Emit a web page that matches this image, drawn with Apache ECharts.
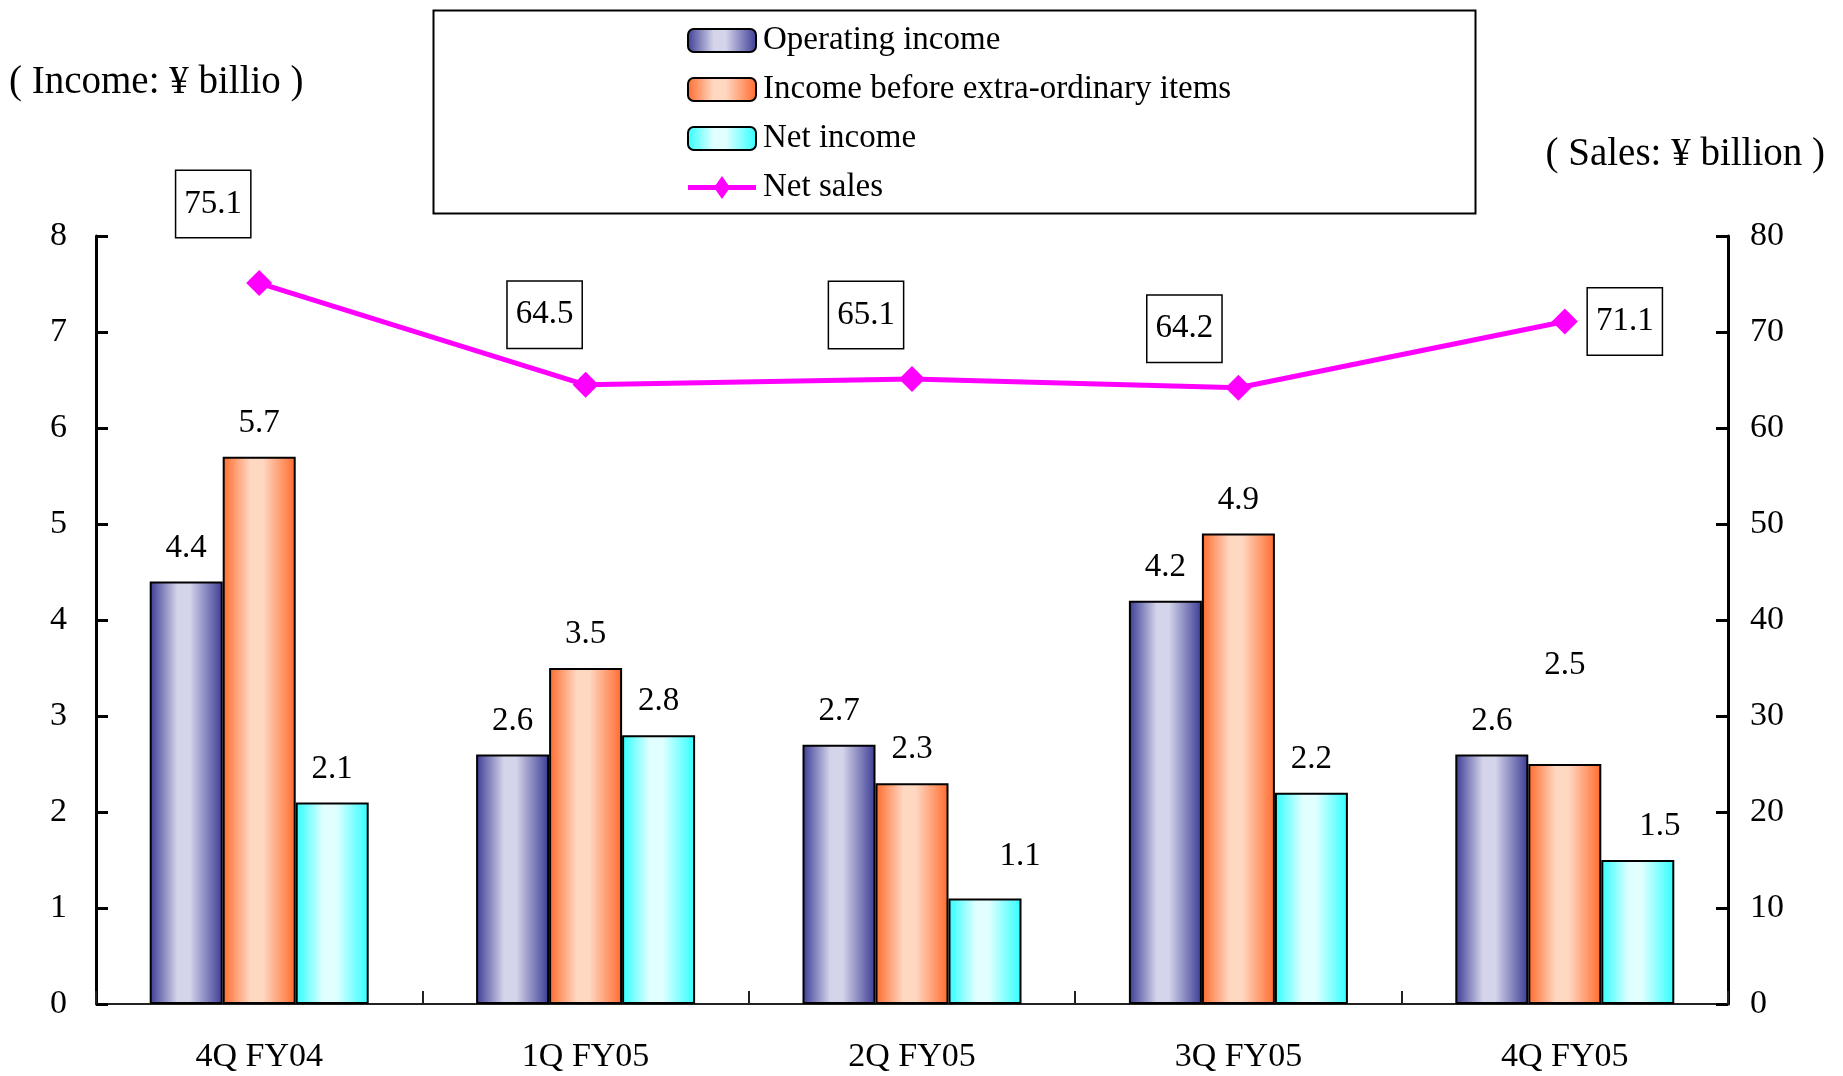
<!DOCTYPE html>
<html>
<head>
<meta charset="utf-8">
<script src="https://cdn.jsdelivr.net/npm/echarts@6/dist/echarts.min.js"></script>
<style>
  html, body { margin: 0; padding: 0; background: #fff; }
  #chart { width: 1843px; height: 1076px; }
</style>
</head>
<body>
<div id="chart"></div>
<script>
// Quarterly results, income in ¥ billion (left axis), net sales in ¥ billion (right axis)
const quarters = ['4Q FY04', '1Q FY05', '2Q FY05', '3Q FY05', '4Q FY05'];
const operatingIncome = [4.4, 2.6, 2.7, 4.2, 2.6];
const incomeBeforeExtra = [5.7, 3.5, 2.3, 4.9, 2.5];
const netIncome = [2.1, 2.8, 1.1, 2.2, 1.5];
const netSales = [75.1, 64.5, 65.1, 64.2, 71.1];
const incomeTicks = [0, 8, 1];   // min, max, step
const salesTicks = [0, 80, 10];  // min, max, step

const FONT = "'Liberation Serif', 'Times New Roman', serif";

// thick line with a diamond in the middle, used as the legend key for the sales line
const LINE_DIAMOND_ICON = 'path://M0,9 L27.7,9 L34,0 L40.3,9 L68,9 L68,14 L40.3,14 L34,23 L27.7,14 L0,14 Z';

function barGradient(edge, light) {
  return new echarts.graphic.LinearGradient(0, 0, 1, 0, [
    { offset: 0, color: edge },
    { offset: 0.38, color: light },
    { offset: 0.55, color: light },
    { offset: 1, color: edge }
  ]);
}

// per-point nudges for value labels that sit off-centre
const barLabelNudge = {
  'Net income': { 2: [35, -9], 4: [22, 0] },
  'Income before extra-ordinary items': { 4: [0, -65] }
};
const salesLabelOffset = [[-46, -79], [-41, -70], [-46, -64], [-54, -59], [60, 0]];

function barSeries(name, values, edge, light) {
  const nudge = barLabelNudge[name] || {};
  return {
    name: name,
    type: 'bar',
    yAxisIndex: 0,
    barWidth: 73,
    barGap: '0%',
    itemStyle: { color: barGradient(edge, light), borderColor: '#000', borderWidth: 2 },
    label: {
      show: true,
      position: 'top',
      distance: 17,
      color: '#000',
      fontFamily: FONT,
      fontSize: 33,
      formatter: p => p.value.toFixed(1)
    },
    data: values.map((v, i) => nudge[i] ? { value: v, label: { offset: nudge[i] } } : v)
  };
}

const chart = echarts.init(document.getElementById('chart'), null, { renderer: 'canvas' });

chart.setOption({
  backgroundColor: '#fff',
  animation: false,
  textStyle: { fontFamily: FONT, color: '#000' },
  grid: { left: 96, right: 115, top: 236, bottom: 72 },
  legend: {
    orient: 'vertical',
    left: 682,
    top: 19,
    itemWidth: 68,
    itemHeight: 23,
    itemGap: 16,
    textStyle: { fontFamily: FONT, fontSize: 33, lineHeight: 33, color: '#000', padding: [0, 0, 0, 2] },
    data: [
      'Operating income',
      'Income before extra-ordinary items',
      'Net income',
      { name: 'Net sales', icon: LINE_DIAMOND_ICON, itemStyle: { color: '#ff00ff', borderWidth: 0 } }
    ]
  },
  graphic: [
    {
      type: 'rect',
      left: 431, top: 8,
      shape: { width: 1042, height: 203 },
      style: { fill: 'none', stroke: '#000', lineWidth: 2 },
      z: -1
    },
    {
      type: 'text',
      left: 9, top: 63,
      style: { text: '( Income: ¥ billio )', fontFamily: FONT, fontSize: 39, fill: '#000' }
    },
    {
      type: 'text',
      right: 18, top: 135,
      style: { text: '( Sales: ¥ billion )', fontFamily: FONT, fontSize: 39, fill: '#000' }
    }
  ],
  xAxis: {
    type: 'category',
    data: quarters,
    boundaryGap: true,
    axisLine: { lineStyle: { color: '#222', width: 2 } },
    axisTick: { show: true, inside: true, length: 13, interval: 0, lineStyle: { color: '#222', width: 2 } },
    axisLabel: { color: '#000', fontFamily: FONT, fontSize: 34, margin: 36, interval: 0 }
  },
  yAxis: [
    {
      type: 'value',
      min: incomeTicks[0], max: incomeTicks[1], interval: incomeTicks[2],
      axisLine: { show: true, lineStyle: { color: '#000', width: 3 } },
      axisTick: { show: true, inside: true, length: 12, lineStyle: { color: '#000', width: 3 } },
      axisLabel: { color: '#000', fontFamily: FONT, fontSize: 34, margin: 29 },
      splitLine: { show: false }
    },
    {
      type: 'value',
      min: salesTicks[0], max: salesTicks[1], interval: salesTicks[2],
      position: 'right',
      axisLine: { show: true, lineStyle: { color: '#000', width: 3 } },
      axisTick: { show: true, inside: true, length: 12, lineStyle: { color: '#000', width: 3 } },
      axisLabel: { color: '#000', fontFamily: FONT, fontSize: 34, margin: 22 },
      splitLine: { show: false }
    }
  ],
  series: [
    barSeries('Operating income', operatingIncome, '#3b3b95', '#d4d4ea'),
    barSeries('Income before extra-ordinary items', incomeBeforeExtra, '#ff6a2c', '#ffd8c2'),
    barSeries('Net income', netIncome, '#2effff', '#e2ffff'),
    {
      name: 'Net sales',
      type: 'line',
      yAxisIndex: 1,
      symbol: 'diamond',
      symbolSize: 26,
      z: 5,
      lineStyle: { color: '#ff00ff', width: 5 },
      itemStyle: { color: '#ff00ff' },
      label: {
        show: true,
        position: 'inside',
        color: '#000',
        fontFamily: FONT,
        fontSize: 33,
        lineHeight: 34,
        backgroundColor: '#fff',
        borderColor: '#000',
        borderWidth: 1.5,
        padding: [16, 8, 16, 8],
        formatter: p => p.value.toFixed(1)
      },
      data: netSales.map((v, i) => ({ value: v, label: { offset: salesLabelOffset[i] } }))
    }
  ]
});
</script>
</body>
</html>
